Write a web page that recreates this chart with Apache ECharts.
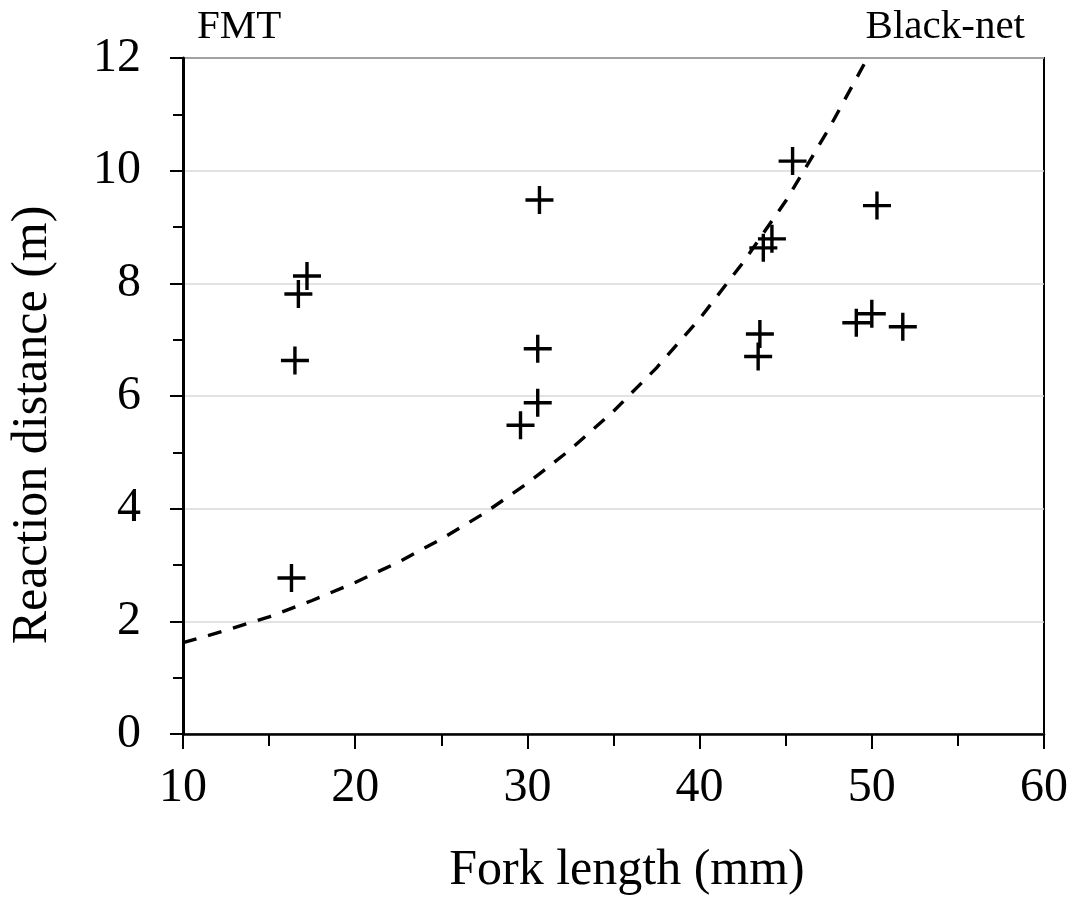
<!DOCTYPE html>
<html>
<head>
<meta charset="utf-8">
<script src="https://cdn.jsdelivr.net/npm/echarts@6/dist/echarts.min.js"></script>
<style>
html,body{margin:0;padding:0;background:#fff;}
#chart{width:1074px;height:904px;}
</style>
</head>
<body>
<div id="chart"></div>
<script>
// Observed points (fork length in mm, reaction distance in m)
var forkLength = [16.3, 16.5, 16.7, 17.2, 29.6, 30.6, 30.6, 30.7, 43.4, 43.5, 43.7, 44.2, 45.4, 49.1, 50.0, 50.3, 51.8];
var reactionDist = [2.77, 6.63, 7.81, 8.13, 5.48, 5.88, 6.84, 9.48, 6.70, 7.10, 8.63, 8.79, 10.17, 7.30, 7.46, 9.38, 7.23];

// Dashed curve
var curveX = [10, 12.5, 15, 17.5, 20, 22.5, 25, 27.5, 30, 32.5, 35, 37.5, 40, 42.5, 45, 47.5, 49.75];
var curveY = [1.62, 1.84, 2.08, 2.37, 2.69, 3.05, 3.46, 3.92, 4.45, 5.05, 5.73, 6.50, 7.37, 8.36, 9.46, 10.74, 12.0];

var xTicks = [10, 20, 30, 40, 50, 60];
var yTicks = [0, 2, 4, 6, 8, 10, 12];

var xTitle = 'Fork length (mm)';
var yTitle = 'Reaction distance (m)';
var leftLabel = 'FMT';
var rightLabel = 'Black-net';

var FONT = '"Liberation Serif", "Times New Roman", serif';

var pts = forkLength.map(function (x, i) { return [x, reactionDist[i]]; });
var curve = curveX.map(function (x, i) { return [x, curveY[i]]; });

var plus = 'path://M12.3,0H15.7V12.3H28V15.7H15.7V28H12.3V15.7H0V12.3H12.3Z';

var chart = echarts.init(document.getElementById('chart'), null, {renderer: 'canvas'});
chart.setOption({
  animation: false,
  backgroundColor: '#fff',
  grid: {
    left: 183, right: 30, top: 58, bottom: 170,
    show: true, borderColor: '#000', borderWidth: 2, backgroundColor: 'transparent'
  },
  xAxis: {
    type: 'value',
    min: xTicks[0], max: xTicks[xTicks.length - 1], interval: 10,
    axisLine: {show: true, onZero: false, lineStyle: {color: '#000', width: 2.5}},
    axisTick: {show: true, inside: false, length: 15, lineStyle: {color: '#000', width: 2}},
    minorTick: {show: true, splitNumber: 2, length: 12, lineStyle: {color: '#000', width: 2}},
    splitLine: {show: false},
    axisLabel: {
      margin: 30, color: '#000', fontFamily: FONT, fontSize: 48,
      formatter: function (v) { return xTicks.indexOf(v) >= 0 ? String(v) : ''; }
    }
  },
  yAxis: {
    type: 'value',
    min: yTicks[0], max: yTicks[yTicks.length - 1], interval: 2,
    axisLine: {show: true, onZero: false, lineStyle: {color: '#000', width: 3}},
    axisTick: {show: true, inside: false, length: 13, lineStyle: {color: '#000', width: 2}},
    minorTick: {show: true, splitNumber: 2, length: 10, lineStyle: {color: '#000', width: 2}},
    splitLine: {show: true, lineStyle: {color: '#d9d9d9', width: 1.5}},
    axisLabel: {
      margin: 42, color: '#000', fontFamily: FONT, fontSize: 48,
      formatter: function (v) { return yTicks.indexOf(v) >= 0 ? String(v) : ''; }
    }
  },
  series: [
    {
      type: 'line',
      data: curve,
      showSymbol: false,
      smooth: false,
      clip: true,
      lineStyle: {color: '#000', width: 3.4, type: [14, 12]},
      z: 3
    },
    {
      type: 'scatter',
      data: pts,
      symbol: plus,
      symbolSize: 28,
      itemStyle: {color: '#000', opacity: 1},
      z: 4
    }
  ],
  graphic: [
    {
      type: 'text', x: 197, y: 27,
      style: {text: leftLabel, fontFamily: FONT, fontSize: 41, fill: '#000', align: 'left', verticalAlign: 'middle'}
    },
    {
      type: 'text', x: 1025, y: 27,
      style: {text: rightLabel, fontFamily: FONT, fontSize: 41, fill: '#000', align: 'right', verticalAlign: 'middle'}
    },
    {
      type: 'text', x: 627, y: 871,
      style: {text: xTitle, fontFamily: FONT, fontSize: 50, fill: '#000', align: 'center', verticalAlign: 'middle'}
    },
    {
      type: 'text', x: 33, y: 425, rotation: Math.PI / 2,
      style: {text: yTitle, fontFamily: FONT, fontSize: 50, fill: '#000', align: 'center', verticalAlign: 'middle'}
    }
  ]
});
</script>
</body>
</html>
